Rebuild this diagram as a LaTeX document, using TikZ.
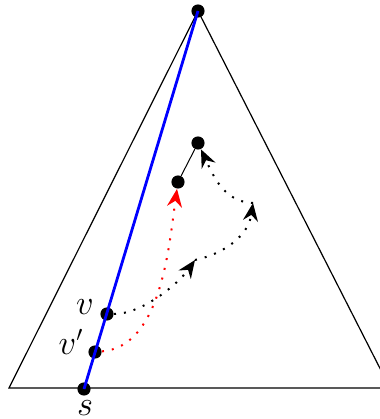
\documentclass[tikz,border=0pt]{standalone}
\usetikzlibrary{arrows.meta}
\begin{document}
\begin{tikzpicture}[x=0.5pt,y=0.5pt,font=\fontsize{16}{19}\selectfont,
  dot/.style={circle,fill,inner sep=0pt,minimum size=6.6pt},
  walk/.style={loosely dotted,line width=1pt,-{Stealth[length=9pt,width=7.5pt,inset=3pt]}}]
  \useasboundingbox (0,0) rectangle (380,419);
  \coordinate (L) at (9,31); \coordinate (R) at (390,31);
  \node[dot] (T) at (198,408) {};
  \draw[line width=0.6pt] (L) -- (R) -- (T.center) -- cycle;
  \node[dot] (s) at (84,30) {}; \node[dot] (v) at (107,105) {}; \node[dot] (vp) at (95,67) {};
  \draw[blue,line width=1.4pt] (s.center) -- (T.center);
  \node[dot] (a) at (178,237) {}; \node[dot] (b) at (198,276) {};
  \draw[line width=0.5pt] (a) -- (b);
  \node (vlab) at (85,112) {$v$}; \node (vplab) at (71,77) {$v'$};
  \node[inner sep=0pt] (slab) at (85,11) {$s$};
  \coordinate (P1) at (195,159); \coordinate (P2) at (253,216);
  \draw[walk] (v) to[out=0,in=235,looseness=0.75] (P1);
  \draw[walk] (P1) to[out=12,in=262] (P2);
  \draw[walk] (P2) to[out=178,in=295] (b);
  \draw[walk,red] (vp) to[out=5,in=262,looseness=0.85] (a);
\end{tikzpicture}
\end{document}
